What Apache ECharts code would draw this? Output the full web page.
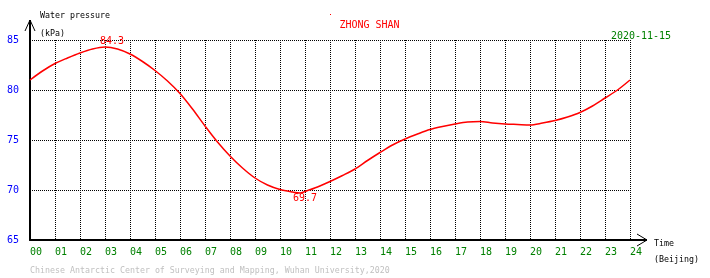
<!DOCTYPE html>
<html>
<head>
<meta charset="utf-8">
<script src="https://cdn.jsdelivr.net/npm/echarts@6/dist/echarts.min.js"></script>
<style>html,body{margin:0;padding:0;background:#fff}#c{width:710px;height:278px}</style>
</head>
<body>
<div id="c"></div>
<script>
// Data
var hours = [0,0.5,1,1.5,2,2.5,3,3.5,4,4.5,5,5.5,6,6.5,7,7.5,8,8.5,9,9.5,10,10.5,10.8,11,11.5,12,12.5,13,13.5,14,14.5,15,15.5,16,16.5,17,17.5,18,18.5,19,19.5,20,20.5,21,21.5,22,22.5,23,23.5,24];
var pressure = [81.0,81.9,82.65,83.2,83.7,84.1,84.3,84.1,83.6,82.85,81.95,80.9,79.65,78.1,76.4,74.8,73.4,72.2,71.2,70.5,70.05,69.8,69.7,69.85,70.3,70.85,71.45,72.1,72.95,73.75,74.5,75.1,75.6,76.05,76.35,76.6,76.8,76.85,76.7,76.6,76.55,76.5,76.7,76.95,77.3,77.75,78.4,79.2,80.0,81.0];
var xTickLabels = ['00','01','02','03','04','05','06','07','08','09','10','11','12','13','14','15','16','17','18','19','20','21','22','23','24'];
var stationName = 'ZHONG SHAN';
var dateText = '2020-11-15';
var yTitle = 'Water pressure';
var yUnit = '(kPa)';
var xTitle = 'Time';
var xUnit = '(Beijing)';
var footer = 'Chinese Antarctic Center of Surveying and Mapping, Wuhan University,2020';

var seriesData = hours.map(function(h, i){ return [h, pressure[i]]; });
var mono = '"DejaVu Sans Mono", "Liberation Mono", monospace';
var smallFont = '8.3px ' + mono;
var bigFont = '10px ' + mono;

var chart = echarts.init(document.getElementById('c'), null, {renderer:'canvas'});
chart.setOption({
  animation: false,
  backgroundColor: '#ffffff',
  grid: {left: 30, right: 80, top: 40, bottom: 38, containLabel: false},
  xAxis: {
    type: 'value', min: 0, max: 24, interval: 1,
    axisLine: {show: true, onZero: false, lineStyle: {color: '#000', width: 2}},
    axisTick: {show: false},
    axisLabel: {
      color: '#008000', fontFamily: mono, fontSize: 10, margin: 7, align: 'left',
      formatter: function(v){ return xTickLabels[Math.round(v)]; }
    },
    splitLine: {show: true, lineStyle: {color: '#000', type: [1,1], width: 1}}
  },
  yAxis: {
    type: 'value', min: 65, max: 85, interval: 5,
    axisLine: {show: true, onZero: false, lineStyle: {color: '#000', width: 2}},
    axisTick: {show: false},
    axisLabel: {color: '#0000ff', fontFamily: mono, fontSize: 10, margin: 11, padding: [0,0,5,0]},
    splitLine: {show: true, lineStyle: {color: '#000', type: [1,1], width: 1}}
  },
  series: [{
    type: 'line',
    data: seriesData,
    smooth: 0.3,
    showSymbol: false,
    lineStyle: {color: '#ff0000', width: 1.5},
    itemStyle: {color: '#ff0000'},
    markPoint: {
      symbol: 'circle', symbolSize: 0,
      data: [
        {type: 'max', label: {position: 'top', distance: 1, offset: [7, 0]}},
        {type: 'min', label: {position: 'bottom', distance: 0, offset: [5, 0]}}
      ],
      label: {show: true, color: '#ff0000', fontFamily: mono, fontSize: 10,
        formatter: function(p){ return p.value.toFixed(1); }}
    }
  }],
  graphic: [
    {type: 'line', shape: {x1: 30, y1: 40, x2: 30, y2: 20}, style: {stroke: '#000', lineWidth: 2}},
    {type: 'polyline', shape: {points: [[25, 31], [30, 20], [35, 31]]}, style: {stroke: '#000', lineWidth: 1, fill: null}},
    {type: 'line', shape: {x1: 630, y1: 240, x2: 647, y2: 240}, style: {stroke: '#000', lineWidth: 2}},
    {type: 'polyline', shape: {points: [[637, 234], [647, 240], [637, 246]]}, style: {stroke: '#000', lineWidth: 1, fill: null}},
    {type: 'text', style: {text: yTitle, x: 40, y: 16, font: smallFont, fill: '#000', textVerticalAlign: 'middle'}},
    {type: 'text', style: {text: yUnit, x: 40, y: 34, font: smallFont, fill: '#000', textVerticalAlign: 'middle'}},
    {type: 'text', style: {text: xTitle, x: 654, y: 244, font: smallFont, fill: '#000', textVerticalAlign: 'middle'}},
    {type: 'text', style: {text: xUnit, x: 654, y: 260, font: smallFont, fill: '#000', textVerticalAlign: 'middle'}},
    {type: 'text', style: {text: footer, x: 30, y: 270.5, font: smallFont, fill: '#c0c0c0', textVerticalAlign: 'middle'}},
    {type: 'text', style: {text: stationName, x: 369.5, y: 25.5, font: bigFont, fill: '#ff0000', textAlign: 'center', textVerticalAlign: 'middle'}},
    {type: 'text', style: {text: dateText, x: 641, y: 36.5, font: bigFont, fill: '#008000', textAlign: 'center', textVerticalAlign: 'middle'}},
    {type: 'rect', shape: {x: 330, y: 14, width: 1, height: 1}, style: {fill: '#ff0000'}}
  ]
});
</script>
</body>
</html>
